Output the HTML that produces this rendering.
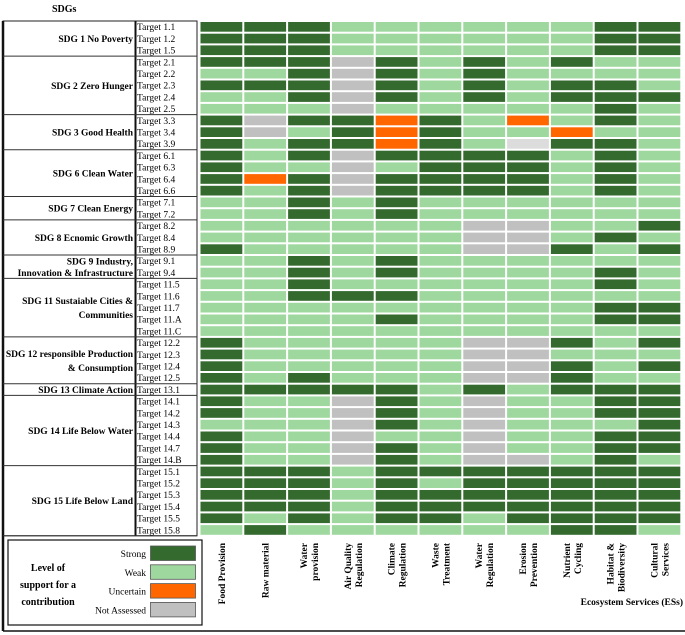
<!DOCTYPE html>
<html><head><meta charset="utf-8"><style>
body{margin:0;background:#fff;}
svg{display:block;}
svg text{font-family:"Liberation Serif","Times New Roman",serif;}
</style></head><body>
<svg id="chart" width="685" height="635" viewBox="0 0 685 635" xmlns="http://www.w3.org/2000/svg" font-family="Liberation Serif, serif">
<text x="52" y="12" font-size="10" font-weight="bold" font-family="Liberation Serif, serif">SDGs</text>
<g id="frame"></g>
<g id="cells"></g>
<g id="labels"></g>
</svg>
<script>
const targets=["Target 1.1","Target 1.2","Target 1.5","Target 2.1","Target 2.2","Target 2.3","Target 2.4","Target 2.5","Target 3.3","Target 3.4","Target 3.9","Target 6.1","Target 6.3","Target 6.4","Target 6.6","Target 7.1","Target 7.2","Target 8.2","Target 8.4","Target 8.9","Target 9.1","Target 9.4","Target 11.5","Target 11.6","Target 11.7","Target 11.A","Target 11.C","Target 12.2","Target 12.3","Target 12.4","Target 12.5","Target 13.1","Target 14.1","Target 14.2","Target 14.3","Target 14.4","Target 14.7","Target 14.B","Target 15.1","Target 15.2","Target 15.3","Target 15.4","Target 15.5","Target 15.8"];
const services=[["Food Provision"],["Raw material"],["Water","provision"],["Air Quality","Regulation"],["Climate","Regulation"],["Waste","Treatment"],["Water","Regulation"],["Erosion","Prevention"],["Nutrient","Cycling"],["Habitat &","Biodiversity"],["Cultural","Services"]];
const sdgNames=[["SDG 1 No Poverty"],["SDG 2 Zero Hunger"],["SDG 3 Good Health"],["SDG 6 Clean Water"],["SDG 7 Clean Energy"],["SDG 8 Ecnomic Growth"],["SDG 9 Industry,","Innovation & Infrastructure"],["SDG 11 Sustaiable Cities &","Communities"],["SDG 12 responsible Production","& Consumption"],["SDG 13 Climate Action"],["SDG 14 Life Below Water"],["SDG 15 Life Below Land"]];
const sdgCounts=[3,5,3,4,2,3,2,5,4,1,6,6];
const levels=[
"SSSWWWWWWSS","SSSWWWWWWSS","SSSWWWWWWSS",
"SSSNSWSWSWW","WWSNSWSWWWW","SSSNSWSWSSW","WWSNSWSWSSS","WWWNWWWWWSW",
"SNSSUSWUWSW","SNWSUSWWUWW","SWSSUSWLSSW",
"SWSNSSSSWSW","SWWNWSSSWSW","SUSNSSSSWSW","SWSNSSSSWSW",
"WWSWSWWWWWW","WWSWSWWWWWW",
"WWWWWWNNWWS","WWWWWWNNWSW","SWWWWWNNSWS",
"WWSWSWWWWWW","WWSWSWWWWSW",
"WWSWWWWWWSW","WWSSSWWWWWW","WWWWWWWWWSS","WWWWSWWWWSS","WWWWWWWWWWW",
"SWWWWWNNSWS","SWWWWWNNWWW","SWWWWWNNSWS","SWSWWWNNSWW",
"SSSSSWSWSSS",
"SWWNSWNWWSS","SWWNSWNWWSS","WWWNSWNWWWS","SWWNWWNWWSS","SWWNSWNWWSS","SWWNSWNNWSW",
"SSSWSSSSSSS","SSSWSWSSSSS","SSSWSSSSSSS","SSSWSSSSSSS","SWSWSSWSSSS","WSWWWWWWSSW"];
const legendLabels=["Strong","Weak","Uncertain","Not Assessed"];
const legendCodes=["S","W","U","N"];

const colors={S:"#356a2f",W:"#9fd89f",U:"#ff6600",N:"#c0c0c0",L:"#dcdcdc"};
const FF="Liberation Serif, serif";
const NS="http://www.w3.org/2000/svg";
const x0=199.5,cw=43.8,y0=21,rh=11.7;
const xScale=i=>x0+i*cw, yScale=j=>y0+j*rh;
function mk(tag,attrs,parent,text){const e=document.createElementNS(NS,tag);for(const k in attrs)e.setAttribute(k,attrs[k]);if(tag==='text')e.setAttribute('font-family',FF);if(text!=null)e.textContent=text;parent.appendChild(e);return e;}
const cells=document.getElementById('cells'),labels=document.getElementById('labels'),frame=document.getElementById('frame');
levels.forEach((row,j)=>{
  for(let i=0;i<services.length;i++){
    const c=row[i];
    const r=mk('rect',{x:xScale(i)+1,y:yScale(j)+1,width:cw-2,height:rh-2,fill:colors[c]},cells);
    
    
  }
  const t=mk('text',{x:137,y:yScale(j)+rh-2.5,'font-size':9.5},labels,targets[j]);
  
  
});
const yEnd=yScale(targets.length);
mk('rect',{x:3,y:y0,width:194,height:yEnd-y0,fill:"none",stroke:"#222","stroke-width":1},frame);
mk('line',{x1:3,y1:y0,x2:3,y2:631,stroke:"#111","stroke-width":2.5},frame);
mk('line',{x1:3,y1:631,x2:685,y2:631,stroke:"#111","stroke-width":1.5},frame);
mk('line',{x1:135.5,y1:y0,x2:135.5,y2:yEnd,stroke:"#111","stroke-width":2},frame);
let acc=0;
sdgCounts.forEach((n,k)=>{
  const top=yScale(acc),bot=yScale(acc+n);
  mk('line',{x1:3,y1:bot,x2:197,y2:bot,stroke:"#333","stroke-width":1},frame);
  const lines=sdgNames[k];const mid=(top+bot)/2;
  lines.forEach((s,li)=>{
    const yy=mid+3.5+(li-(lines.length-1)/2)*(lines.length>1&&n<=2?rh:rh*1.2);
    const t=mk('text',{x:133,y:yy,'font-size':9.5,'font-weight':'bold','text-anchor':'end'},labels,s);
    
    
  });
  acc+=n;
});
services.forEach((s,i)=>{
  const cx=xScale(i)+cw/2;
  s.forEach((line,li)=>{
    const xx=cx+3.5+(li-(s.length-1)/2)*11;
    const t=mk('text',{x:xx,y:543,'font-size':9.5,'font-weight':'bold','text-anchor':'end',transform:`rotate(-90 ${xx} 543)`},labels,line);
    
    
  });
});
const es=mk('text',{x:683,y:605,'font-size':9.5,'font-weight':'bold','text-anchor':'end'},labels,"Ecosystem Services (ESs)");


const lg=mk('g',{},labels);


mk('rect',{x:8,y:540,width:194,height:85,fill:"none",stroke:"#111","stroke-width":1.2},lg);
["Level of","support for a","contribution"].forEach((s,k)=>{
  const t=mk('text',{x:48,y:571+k*17,'font-size':10,'font-weight':'bold','text-anchor':'middle'},lg,s);
  
  
});
legendLabels.forEach((s,k)=>{
  const yy=546+k*18.8;
  const r=mk('rect',{x:150.5,y:yy,width:45,height:14.5,fill:colors[legendCodes[k]],stroke:"#555","stroke-width":0.8},lg);
  
  
  const t=mk('text',{x:146,y:yy+11,'font-size':9.5,'text-anchor':'end'},lg,s);
  
  
});
</script>
</body></html>
